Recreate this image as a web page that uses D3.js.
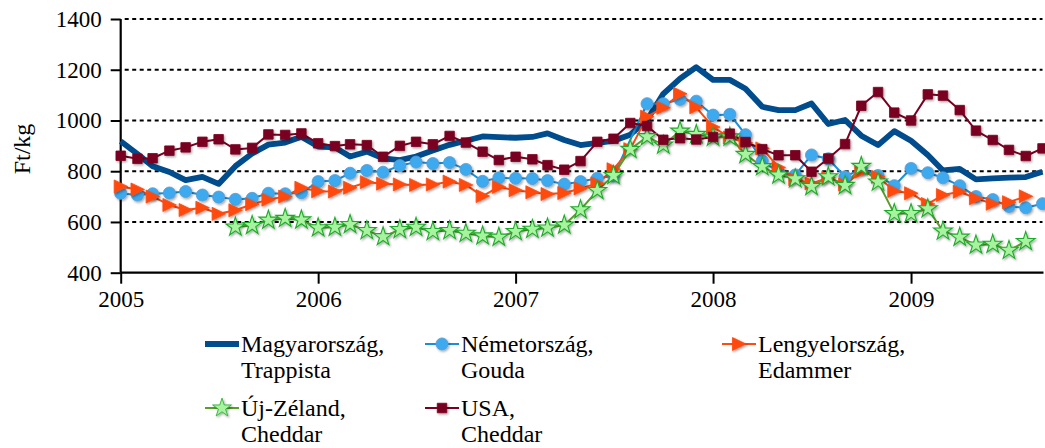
<!DOCTYPE html>
<html><head><meta charset="utf-8">
<script src="https://cdn.jsdelivr.net/npm/d3@7"></script>
<style>
html,body{margin:0;padding:0;background:#fff;}
svg text{font-family:'Liberation Serif','Times New Roman','DejaVu Serif',serif !important;}
</style></head>
<body><svg id="c" width="1045" height="448"></svg>
<script>
// ---- data ----
const startMonth = new Date(2005, 0, 1);
const yearTicks = [2005, 2006, 2007, 2008, 2009];
const yTicks = [400, 600, 800, 1000, 1200, 1400];
const seriesNames = [["Magyarország,", "Trappista"], ["Németország,", "Gouda"], ["Lengyelország,", "Edammer"], ["Új-Zéland,", "Cheddar"], ["USA,", "Cheddar"]];

const magyar = [918,868,820,797,765,778,750,820,870,905,913,936,897,894,858,877,851,844,858,882,904,920,937,934,932,935,949,923,903,912,920,944,1002,1105,1165,1210,1160,1160,1125,1054,1041,1041,1067,986,1002,940,903,958,920,864,803,809,768,772,775,777,798];
const gouda = [713,706,711,714,720,706,698,689,693,713,711,715,759,763,792,803,796,822,836,830,834,807,760,774,772,771,763,749,759,772,781,null,1066,1066,1083,1076,1021,1024,944,841,796,785,864,849,778,810,783,743,811,794,774,743,700,688,661,656,672];
const lengyel = [740,728,700,667,647,656,632,646,670,688,700,735,721,720,735,757,751,748,746,748,759,746,702,738,725,717,710,714,732,752,808,887,1015,1050,1105,1052,974,933,912,890,815,768,752,774,748,798,778,722,713,671,706,719,693,672,678,701];
const ujzeland = [null,null,null,null,null,null,null,580,586,607,614,608,577,579,590,566,542,570,579,562,566,555,545,540,562,571,576,588,648,724,783,886,936,903,958,945,934,935,866,818,785,770,740,778,744,819,757,633,633,652,564,540,509,512,488,523];
const usa = [861,849,851,881,894,916,926,886,892,945,943,949,910,899,906,903,857,900,916,906,939,913,877,844,857,847,824,806,840,916,928,990,978,924,930,925,935,948,915,887,863,863,798,850,907,1058,1112,1031,1000,1103,1098,1041,960,923,884,860,890];

// ---- setup ----
const FONT = "'Liberation Serif','Times New Roman','DejaVu Serif',serif";
const svg = d3.select("#c").attr("font-family", FONT);
const X0 = 120.7, X1 = 1042.5, Y0 = 272.7, Y1 = 19;
const endMonth = d3.timeMonth.offset(startMonth, 56);
const x = d3.scaleTime().domain([startMonth, endMonth]).range([X0, X1]);
const y = d3.scaleLinear().domain([400, 1400]).range([Y0, Y1]);
const monthAt = i => d3.timeMonth.offset(startMonth, i);

const defs = svg.append("defs");
const f = defs.append("filter").attr("id", "sh").attr("x", "-50%").attr("y", "-50%").attr("width", "200%").attr("height", "200%");
f.append("feDropShadow").attr("dx", 1.2).attr("dy", 1.4).attr("stdDeviation", 0.9).attr("flood-color", "#000").attr("flood-opacity", 0.35);

// gridlines
svg.append("g").selectAll("line").data(yTicks.filter(d => d > 400)).join("line")
  .attr("x1", X0 + 4).attr("x2", X1).attr("y1", d => y(d)).attr("y2", d => y(d))
  .attr("stroke", "#000").attr("stroke-width", 2).attr("stroke-dasharray", "4,3.5");

// axes
const yAxis = svg.append("g").attr("transform", `translate(${X0},0)`)
  .call(d3.axisLeft(y).tickValues(yTicks).tickSize(10).tickPadding(9).tickFormat(d3.format("d")));
const xAxis = svg.append("g").attr("transform", `translate(0,${Y0})`)
  .call(d3.axisBottom(x).tickValues(yearTicks.map(yr => new Date(yr, 0, 1))).tickSize(11).tickPadding(7).tickFormat(d3.timeFormat("%Y")));
[yAxis, xAxis].forEach(g => {
  g.attr("font-family", FONT).attr("font-size", 23);
  g.select(".domain").attr("stroke", "#000").attr("stroke-width", 2.2);
  g.selectAll(".tick line").attr("stroke", "#000").attr("stroke-width", 2);
  g.selectAll("text").attr("font-family", FONT).attr("font-size", 23).attr("fill", "#000");
});
xAxis.select(".domain").attr("d", `M${X0},0H${X1 + 1}`);
yAxis.select(".domain").attr("d", `M0,${Y0}V${Y1}`);

svg.append("text").attr("transform", "translate(22,149) rotate(-90)")
  .attr("text-anchor", "middle").attr("dy", "0.35em").attr("font-size", 24).text("Ft/kg");

// series
const series = [
  {vals: magyar, color: "#004C8C", lw: 5.8, marker: null},
  {vals: gouda, color: "#1A8FDA", lw: 2, marker: "circle", fill: "#3DA9EF", stroke: "#5C9ACB"},
  {vals: lengyel, color: "#FF4A10", lw: 2, marker: "tri", fill: "#FF4A10", stroke: "#FF4A10"},
  {vals: ujzeland, color: "#5A9E2A", lw: 2, marker: "star", fill: "#A8F2A0", stroke: "#1FAA2A"},
  {vals: usa, color: "#7A0022", lw: 2, marker: "square", fill: "#7A0022", stroke: "#7A0022"}
];
const line = d3.line().x(d => x(d.t)).y(d => y(d.v));
series.forEach(s => {
  s.pts = s.vals.map((v, i) => ({t: monthAt(i), v})).filter(d => d.v != null);
});
series.forEach(s => {
  svg.append("path").datum(s.pts).attr("d", line).attr("fill", "none")
    .attr("stroke", s.color).attr("stroke-width", s.lw).attr("stroke-linejoin", "round");
});
function markerPath(type) {
  if (type === "circle") return d3.symbol(d3.symbolCircle, 115)();
  if (type === "tri") return "M-6.5,-6.5L7,0L-6.5,6.5Z";
  if (type === "star") return d3.symbol(d3.symbolStar, 110)();
  if (type === "square") return d3.symbol(d3.symbolSquare, 90)();
}
series.forEach(s => {
  if (!s.marker) return;
  svg.append("g").attr("filter", "url(#sh)").selectAll("path").data(s.pts).join("path")
    .attr("d", markerPath(s.marker))
    .attr("transform", d => `translate(${x(d.t)},${y(d.v)})`)
    .attr("fill", s.fill).attr("stroke", s.stroke).attr("stroke-width", s.marker === "star" ? 1.1 : 0.8);
});

// legend
const legPos = [[205, 344], [425, 344], [722, 344], [205, 408], [425, 408]];
series.forEach((s, i) => {
  const [lx, ly] = legPos[i];
  const g = svg.append("g").attr("transform", `translate(${lx},${ly})`);
  g.append("line").attr("x1", 0).attr("x2", 34).attr("y1", 0).attr("y2", 0)
    .attr("stroke", s.color).attr("stroke-width", s.lw);
  if (s.marker) g.append("path").attr("d", markerPath(s.marker)).attr("transform", "translate(17,0)")
    .attr("fill", s.fill).attr("stroke", s.stroke).attr("stroke-width", 0.8).attr("filter", "url(#sh)");
  g.append("text").attr("x", 36).attr("y", 0).attr("dy", "0.35em").attr("font-size", 24).attr("font-family", FONT).text(seriesNames[i][0]);
  g.append("text").attr("x", 36).attr("y", 26).attr("dy", "0.35em").attr("font-size", 24).attr("font-family", FONT).text(seriesNames[i][1]);
});
</script></body></html>
